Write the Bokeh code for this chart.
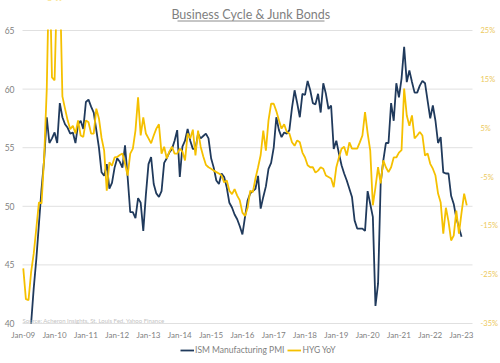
from bokeh.plotting import figure
from bokeh.models import (ColumnDataSource, Range1d, Legend, LegendItem, Label, Arrow)
from bokeh.core.properties import value
from bokeh.embed import file_html
from bokeh.resources import INLINE

# ---- data ----
tick_labels = ["Jan-09", "Jan-10", "Jan-11", "Jan-12", "Jan-13", "Jan-14", "Jan-15",
               "Jan-16", "Jan-17", "Jan-18", "Jan-19", "Jan-20", "Jan-21", "Jan-22", "Jan-23"]

# ISM Manufacturing PMI, monthly from Apr-2009
pmi_start = 3
pmi = [40.0, 43.0, 45.5, 48.5, 51.5, 54.0, 57.6, 55.4, 55.8,            # 2009 Apr-Dec
       56.3, 55.4, 58.8, 57.6, 57.0, 56.7, 56.2, 56.3, 55.4, 57.0, 57.3, 56.6,  # 2010
       58.9, 59.1, 58.5, 58.0, 56.5, 55.0, 52.9, 52.6, 53.6, 51.5, 52.0, 53.3,  # 2011
       54.1, 53.8, 53.3, 55.2, 52.5, 49.5, 49.5, 49.0, 50.7, 50.3, 47.9, 51.0,  # 2012
       53.6, 54.2, 51.9, 51.1, 50.8, 51.3, 53.7, 54.1, 54.6, 54.9, 55.6, 56.5,  # 2013
       52.5, 55.1, 55.6, 56.6, 55.6, 54.9, 54.9, 56.2, 55.8, 56.0, 56.2, 55.8,  # 2014
       54.1, 53.3, 52.2, 51.9, 52.8, 52.5, 51.6, 50.3, 49.9, 49.3, 48.9, 48.3,  # 2015
       47.6, 49.1, 50.5, 51.1, 51.3, 51.5, 52.6, 49.8, 50.8, 51.7, 53.2, 53.7,  # 2016
       55.0, 57.6, 56.5, 55.9, 56.3, 56.2, 56.5, 58.4, 59.9, 58.8, 57.6, 59.6,  # 2017
       59.5, 60.7, 59.9, 58.8, 58.7, 59.6, 58.0, 60.5, 59.6, 58.3, 58.6, 54.9,  # 2018
       55.6, 54.5, 53.5, 52.8, 52.2, 51.5, 50.8, 48.8, 48.1, 48.1, 48.1, 47.9,  # 2019
       51.3, 50.2, 49.1, 41.5, 43.4, 52.0, 53.9, 55.4, 55.4, 58.8, 57.3, 60.5,  # 2020
       59.3, 60.9, 63.6, 60.6, 61.6, 60.6, 59.7, 59.7, 60.3, 60.7, 60.5, 59.0,  # 2021
       57.5, 58.6, 57.3, 55.4, 55.9, 52.9, 52.8, 52.8, 50.9, 50.2, 49.0, 48.2,  # 2022
       47.4]                                                                      # 2023

# HYG year-over-year change (%), monthly from Jan-2009
hyg_start = 0
hyg = [-23.7, -30.0, -30.2, -24.5, -20.7, -15.5, -10.2, -10.4, -1.0, 13.0, 40.0, 15.4,  # 2009
       14.8, 35.5, 36.0, 11.5, 9.0, 6.6, 4.8, 5.5, 3.9, 6.6, 3.5, 3.2,                   # 2010
       6.6, 6.2, 3.9, 3.9, 9.0, 7.0, 3.0, 0.4, -7.8, -2.0, -2.7, -1.0,                   # 2011
       -0.9, -0.5, -0.2, -2.3, -4.7, -0.2, 0.8, 4.5, 11.3, 3.5, 7.2, 3.9,                # 2012
       2.9, 1.9, 3.5, 4.9, 5.8, -0.2, 1.2, -1.2, 0.2, 1.2, -0.2, -0.2,                   # 2013
       0.8, 0.2, -1.6, 3.9, 2.9, 4.7, -0.6, 4.5, 1.2, -0.8, -2.5, -3.0,                  # 2014
       -3.3, -3.7, -4.0, -4.3, -4.7, -6.1, -5.7, -7.8, -8.5, -7.5, -8.8, -9.8,           # 2015
       -12.3, -13.0, -11.3, -7.8, -8.1, -5.3, -3.0, -0.5, 4.5, 0.4, 6.6, 10.0,           # 2016
       10.0, 8.5, 6.6, 4.9, 5.8, 4.2, 3.9, 2.1, 1.4, 2.5, 2.1, 0.0,                      # 2017
       -1.0, -2.6, -3.0, -3.0, -4.1, -3.7, -3.0, -3.3, -4.7, -5.0, -5.3, -7.1,           # 2018
       -3.0, -1.0, 0.8, 1.2, -0.6, 2.1, 0.8, 0.8, 0.8, 2.1, 3.5, 8.3,                    # 2019
       4.0, 0.4, -10.8, -7.1, -3.0, -6.3, -1.6, -3.0, -4.0, -3.0, -1.0, -1.0,            # 2020
       0.0, 0.5, 13.1, 7.6, 5.5, 7.6, 2.9, 3.5, 4.2, 3.5, -0.6, -0.2,                    # 2021
       -2.3, -3.3, -4.7, -8.4, -10.2, -16.6, -11.3, -14.1, -18.0, -17.0, -11.9, -16.6,   # 2022
       -12.3, -8.4, -10.8]                                                                # 2023

left_ticks = [40, 45, 50, 55, 60, 65]
right_ticks = [-35, -25, -15, -5, 5, 15, 25]

PMI_COLOR = "#203a5c"
HYG_COLOR = "#f5c000"
FONT = "Lato"
GRAY = "#7f7f7f"

# ---- layout (pixels of the plot area inside the 500x363 canvas) ----
W, H = 500, 363
PL, PR, PT, PB = 22, 472, 30, 323
X0, X1 = -0.3, 172.2          # months shown in plot area
Y0, Y1 = 40, 65               # PMI axis
R0, R1 = -35, 25              # HYG axis (%)
kx = (PR - PL) / (X1 - X0)
ky = (PB - PT) / (Y1 - Y0)
kr = (PB - PT) / (R1 - R0)
XS, XE = X0 - PL / kx, X1 + (W - PR) / kx
YS, YE = Y0 - (H - PB) / ky, Y1 + PT / ky

p = figure(width=W, height=H, output_backend="svg", toolbar_location=None,
           x_range=Range1d(XS, XE), y_range=Range1d(YS, YE),
           x_axis_location=None, y_axis_location=None,
           min_border_left=0, min_border_right=0, min_border_top=0, min_border_bottom=0)
p.outline_line_color = None
p.background_fill_color = "white"
p.grid.visible = False
p.extra_y_ranges = {"hyg": Range1d(R0 - (H - PB) / kr, R1 + PT / kr)}

# horizontal gridlines (incl. baseline at 40)
p.segment(x0=[X0] * len(left_ticks), x1=[X1] * len(left_ticks), y0=left_ticks, y1=left_ticks,
          line_color="#e0e0e0", line_width=1)

pmi_src = ColumnDataSource(dict(x=list(range(pmi_start, pmi_start + len(pmi))), y=pmi))
hyg_src = ColumnDataSource(dict(x=list(range(hyg_start, hyg_start + len(hyg))), y=hyg))
r1 = p.line("x", "y", source=pmi_src, line_color=PMI_COLOR, line_width=1.8)
r2 = p.line("x", "y", source=hyg_src, line_color=HYG_COLOR, line_width=1.8, y_range_name="hyg")

# keep lines inside the plot area: values above the top of the scale are cut off
p.quad(left=[XS], right=[XE], bottom=[Y1 + 0.09], top=[YE],
       fill_color="white", fill_alpha=1.0, line_color=None)

# left tick labels
p.text(x=[X0] * len(left_ticks), y=left_ticks, text=[str(t) for t in left_ticks],
       x_offset=-8, text_align="right", text_baseline="middle",
       text_font=value(FONT), text_font_size=value("8.5px"), text_color=GRAY)
# right tick labels (HYG %)
p.text(x=[X1] * len(right_ticks), y=right_ticks, text=[f"{t}%" for t in right_ticks],
       x_offset=8, text_align="left", text_baseline="middle", y_range_name="hyg",
       text_font=value(FONT), text_font_size=value("7.5px"), text_color="#ecc95c")
# bottom tick labels
tick_x = [12 * i for i in range(len(tick_labels))]
p.text(x=tick_x, y=[Y0] * len(tick_x), text=tick_labels, y_offset=11,
       text_align="center", text_baseline="middle",
       text_font=value(FONT), text_font_size=value("8px"), text_color=GRAY)

# underlined title
p.add_layout(Label(x=250.5, y=H - 14, x_units="screen", y_units="screen",
                   text="Business Cycle & Junk Bonds", text_font=FONT,
                   text_font_size="12.5px", text_color=GRAY,
                   text_align="center", text_baseline="middle"))
p.add_layout(Arrow(end=None, x_start=177, y_start=H - 20.5, x_end=324, y_end=H - 20.5,
                   start_units="screen", end_units="screen",
                   line_color="#8c8c8c", line_width=1))

# source note
p.add_layout(Label(x=PL, y=H - 320, x_units="screen", y_units="screen",
                   text="Source: Acheron Insights, St. Louis Fed, Yahoo Finance",
                   text_font=FONT, text_font_size="6px", text_color="#c4c4c4",
                   text_align="left", text_baseline="middle"))

legend = Legend(items=[LegendItem(label="ISM Manufacturing PMI", renderers=[r1]),
                       LegendItem(label="HYG YoY", renderers=[r2])],
                orientation="horizontal", location=(180, H - 356),
                label_text_font=FONT, label_text_font_size="8.5px", label_text_color=GRAY,
                glyph_width=14, glyph_height=10, label_height=12, label_standoff=1, spacing=3,
                padding=0, margin=0, border_line_color=None, background_fill_alpha=0)
p.add_layout(legend)

open("out.html", "w").write(file_html(p, INLINE))
